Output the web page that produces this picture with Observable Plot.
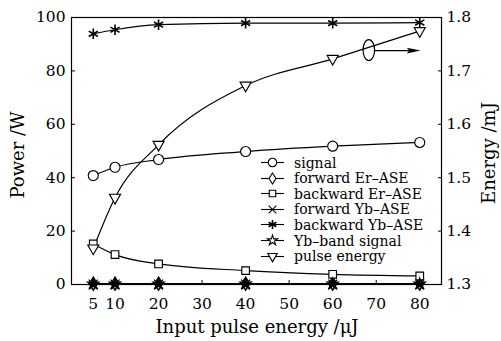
<!DOCTYPE html>
<html><head><meta charset="utf-8">
<script src="https://cdn.jsdelivr.net/npm/d3@7"></script>
<script src="https://cdn.jsdelivr.net/npm/@observablehq/plot@0.6"></script>
<style>
body{margin:0;background:#fff;}
#wrap{position:relative;width:501px;height:341px;font-family:"DejaVu Serif",serif;color:#000;overflow:hidden;}
#wrap > svg{position:absolute;left:0;top:0;}
.title{position:absolute;white-space:nowrap;font-size:18px;}
#legend{position:absolute;left:261px;top:155px;font-size:14px;}
.row{display:flex;align-items:center;height:15.55px;}
.row svg{margin-right:10px;display:block}
</style></head><body><div id="wrap"></div>
<script>
// ---- data ----
const inputEnergy = [5, 10, 20, 40, 60, 80];
const signal       = [40.8, 43.9, 46.8, 49.8, 51.8, 53.2];
const fwdErASE     = [0.3, 0.3, 0.3, 0.3, 0.3, 0.3];
const bwdErASE     = [15.2, 11.2, 7.7, 5.2, 3.8, 3.2];
const fwdYbASE     = [0.1, 0.1, 0.1, 0.1, 0.1, 0.1];
const bwdYbASE     = [93.9, 95.4, 97.3, 97.9, 97.9, 98.1];
const ybBandSignal = [0.2, 0.2, 0.2, 0.2, 0.2, 0.2];
const pulseEnergy  = [1.3675, 1.4625, 1.5615, 1.6725, 1.7225, 1.7745]; // mJ, right axis
const seriesNames = ["signal", "forward Er\u2013ASE", "backward Er\u2013ASE", "forward Yb\u2013ASE", "backward Yb\u2013ASE", "Yb\u2013band signal", "pulse energy"];
const xTicks = [5, 10, 20, 30, 40, 50, 60, 70, 80];
const yTicks = [0, 20, 40, 60, 80, 100];
const rightTicks = [1.3, 1.4, 1.5, 1.6, 1.7, 1.8];
// annotation (ellipse + arrow pointing to the right axis)
const noteEllipse = {x: 68.3, y: 87.8};
const noteArrow = {x1: 69.7, x2: 78.6, y: 87.6};

// right axis mapping onto the left (power) scale
const eMin = 1.3, eMax = 1.8, pMin = 0, pMax = 100;
const toLeft = e => pMin + (e - eMin) / (eMax - eMin) * (pMax - pMin);
const fromLeft = p => eMin + (p - pMin) / (pMax - pMin) * (eMax - eMin);

// custom symbols
const triDown = {draw(ctx, size) { const s = Math.sqrt(size / Math.PI);
  ctx.moveTo(-1.15 * s, -0.72 * s); ctx.lineTo(1.15 * s, -0.72 * s); ctx.lineTo(0, 1.3 * s); ctx.closePath(); }};
const tallDiamond = {draw(ctx, size) { const s = Math.sqrt(size / Math.PI);
  ctx.moveTo(0, -1.35 * s); ctx.lineTo(0.85 * s, 0); ctx.lineTo(0, 1.35 * s); ctx.lineTo(-0.85 * s, 0); ctx.closePath(); }};
const ellipse = {draw(ctx, size) { const ry = Math.sqrt(size / Math.PI), rx = ry * 0.55, k = 0.5523;
  ctx.moveTo(rx, 0);
  ctx.bezierCurveTo(rx, k * ry, k * rx, ry, 0, ry);
  ctx.bezierCurveTo(-k * rx, ry, -rx, k * ry, -rx, 0);
  ctx.bezierCurveTo(-rx, -k * ry, -k * rx, -ry, 0, -ry);
  ctx.bezierCurveTo(k * rx, -ry, rx, -k * ry, rx, 0); ctx.closePath(); }};
const arrowHead = {draw(ctx, size) { const s = Math.sqrt(size / Math.PI);
  ctx.moveTo(s, 0); ctx.lineTo(-s, -0.42 * s); ctx.lineTo(-0.6 * s, 0); ctx.lineTo(-s, 0.42 * s); ctx.closePath(); }};

const seriesValues = [signal, fwdErASE, bwdErASE, fwdYbASE, bwdYbASE, ybBandSignal, pulseEnergy.map(toLeft)];
const seriesStyle = [
  {symbol: "circle", fill: "white", r: 5},
  {symbol: tallDiamond, fill: "white", r: 4.8, strokeWidth: 1.4},
  {symbol: "square", fill: "white", r: 4.3},
  {symbol: "times", fill: "none", r: 4.2},
  {symbol: "asterisk", fill: "none", r: 5, strokeWidth: 1.6},
  {symbol: "star", fill: "black", r: 3.6},
  {symbol: triDown, fill: "white", r: 4.8}
];
const rows = seriesNames.flatMap((name, k) => inputEnergy.map((x, i) => ({name, k, x, y: seriesValues[k][i]})));

const chart = Plot.plot({
  width: 501, height: 341,
  marginLeft: 71, marginRight: 60, marginTop: 17, marginBottom: 57,
  style: {fontFamily: "DejaVu Serif, serif", fontSize: "15.5px", background: "white", color: "black"},
  x: {domain: [0, 85]},
  y: {domain: [0, 100]},
  marks: [
    Plot.axisX({ticks: xTicks, tickSize: -4, tickPadding: 17, label: null, stroke: "black"}),
    Plot.axisY({ticks: yTicks, tickSize: -4, tickPadding: 10, label: null}),
    Plot.axisY({anchor: "right", ticks: rightTicks.map(toLeft), tickFormat: d => fromLeft(d).toFixed(1), tickSize: -4, tickPadding: 9, label: null}),
    Plot.line(rows, {x: "x", y: "y", z: "name", curve: "monotone-x", stroke: "black", strokeWidth: 1.2}),
    ...seriesStyle.map((st, k) => Plot.dot(rows.filter(d => d.k === k), {
      x: "x", y: "y", symbol: () => st.symbol, r: st.r, fill: st.fill, stroke: "black", strokeWidth: st.strokeWidth || 1.15
    })),
    Plot.frame({stroke: "black", strokeWidth: 1.2}),
    Plot.link([noteArrow], {x1: "x1", x2: "x2", y1: "y", y2: "y", stroke: "black", strokeWidth: 1.4}),
    Plot.dot([noteArrow], {x: "x2", y: "y", symbol: () => arrowHead, r: 7, fill: "black", stroke: "none"}),
    Plot.dot([noteEllipse], {x: "x", y: "y", symbol: () => ellipse, r: 10.5, fill: "none", stroke: "black", strokeWidth: 1.2})
  ]
});
const wrap = document.getElementById("wrap");
wrap.appendChild(chart);

// axis titles
function title(text, css) { const d = document.createElement("div"); d.className = "title"; d.textContent = text; Object.assign(d.style, css); wrap.appendChild(d); }
title("Input pulse energy /\u03bcJ", {left: "257px", top: "326px", transform: "translate(-50%,-50%)"});
title("Power /W", {left: "16.5px", top: "155px", transform: "translate(-50%,-50%) rotate(-90deg)"});
title("Energy /mJ", {left: "488px", top: "153px", transform: "translate(-50%,-50%) rotate(-90deg)"});

// legend
const legend = document.createElement("div"); legend.id = "legend"; wrap.appendChild(legend);
seriesNames.forEach((name, k) => {
  const row = document.createElement("div"); row.className = "row";
  const st = seriesStyle[k];
  const svg = d3.create("svg").attr("width", 23).attr("height", 15);
  svg.append("line").attr("x1", 0).attr("x2", 23).attr("y1", 7.5).attr("y2", 7.5).attr("stroke", "black").attr("stroke-width", 1.1);
  const symType = typeof st.symbol === "string"
    ? {circle: d3.symbolCircle, square: d3.symbolSquare, times: d3.symbolTimes, asterisk: d3.symbolAsterisk, star: d3.symbolStar}[st.symbol]
    : st.symbol;
  const rr = st.symbol === "star" ? 3.2 : st.r * 0.85;
  svg.append("path").attr("transform", "translate(11.5,7.5)")
    .attr("d", d3.symbol(symType, Math.PI * rr * rr)())
    .attr("fill", st.symbol === "star" ? "white" : st.fill).attr("stroke", "black").attr("stroke-width", st.symbol === tallDiamond ? 1.1 : (st.strokeWidth || 1.1));
  row.appendChild(svg.node());
  const t = document.createElement("span"); t.textContent = name; row.appendChild(t);
  legend.appendChild(row);
});
</script></body></html>
